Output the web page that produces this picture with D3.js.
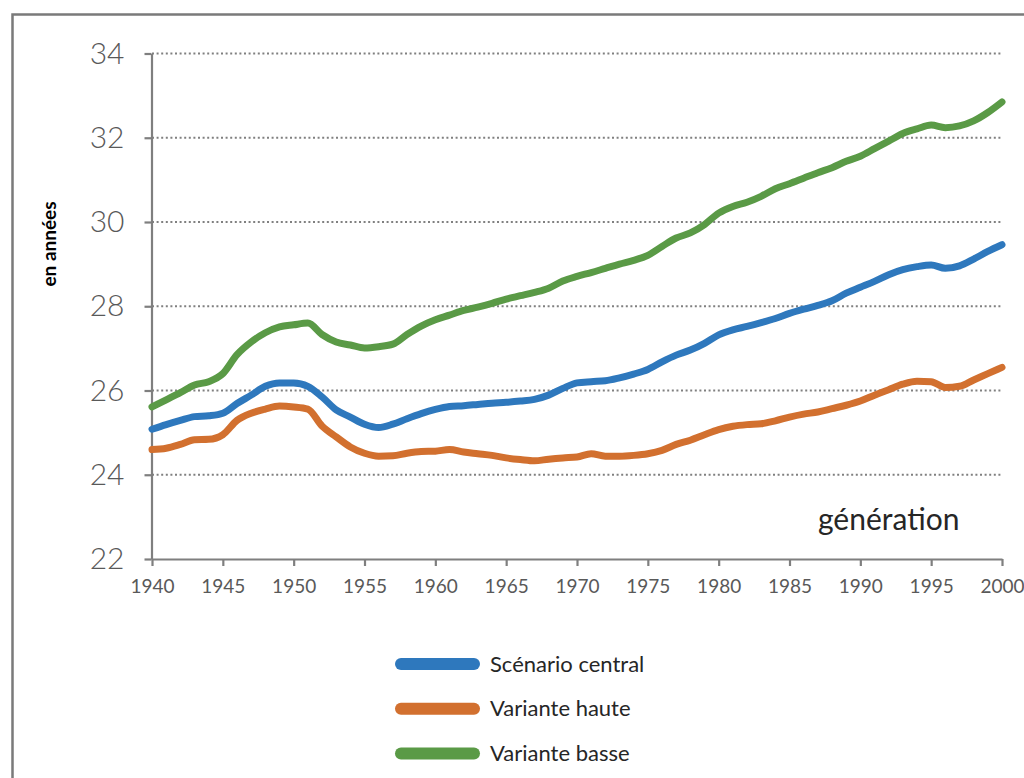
<!DOCTYPE html>
<html>
<head>
<meta charset="utf-8">
<script src="https://cdn.jsdelivr.net/npm/d3@7"></script>
<style>
  html, body { margin: 0; padding: 0; background: #ffffff; }
  svg { display: block; }
  text { font-family: Lato, "Open Sans", "Noto Sans", sans-serif; }
</style>
</head>
<body>
<svg id="chart" width="1024" height="778"></svg>
<script>
// ---- Data ----
const years = [1940,1941,1942,1943,1944,1945,1946,1947,1948,1949,
  1950,1951,1952,1953,1954,1955,1956,1957,1958,1959,
  1960,1961,1962,1963,1964,1965,1966,1967,1968,1969,
  1970,1971,1972,1973,1974,1975,1976,1977,1978,1979,
  1980,1981,1982,1983,1984,1985,1986,1987,1988,1989,
  1990,1991,1992,1993,1994,1995,1996,1997,1998,1999,2000];

const scenarioCentral = [25.08,25.19,25.29,25.38,25.40,25.46,25.69,25.89,26.10,26.18,
  26.18,26.10,25.85,25.54,25.37,25.20,25.12,25.20,25.33,25.45,
  25.55,25.62,25.64,25.67,25.70,25.72,25.75,25.79,25.89,26.05,
  26.18,26.21,26.23,26.30,26.39,26.50,26.68,26.84,26.96,27.12,
  27.32,27.44,27.52,27.61,27.71,27.83,27.93,28.02,28.13,28.31,
  28.45,28.59,28.75,28.87,28.94,28.98,28.90,28.96,29.12,29.30,29.46];

const varianteHaute = [24.60,24.63,24.72,24.83,24.84,24.95,25.29,25.46,25.56,25.63,
  25.61,25.56,25.16,24.90,24.66,24.51,24.44,24.45,24.51,24.55,
  24.56,24.60,24.54,24.50,24.46,24.40,24.36,24.33,24.37,24.40,
  24.42,24.50,24.44,24.44,24.46,24.50,24.58,24.72,24.82,24.95,
  25.07,25.15,25.19,25.21,25.28,25.37,25.44,25.49,25.57,25.65,
  25.75,25.89,26.02,26.15,26.22,26.21,26.07,26.10,26.25,26.40,26.55];

const varianteBasse = [25.61,25.78,25.95,26.13,26.21,26.40,26.85,27.15,27.37,27.51,
  27.56,27.60,27.33,27.15,27.08,27.01,27.04,27.10,27.33,27.53,
  27.68,27.79,27.90,27.98,28.07,28.17,28.25,28.33,28.43,28.60,
  28.71,28.80,28.90,29.00,29.09,29.21,29.42,29.62,29.74,29.94,
  30.21,30.37,30.47,30.61,30.79,30.91,31.04,31.17,31.29,31.44,
  31.56,31.74,31.92,32.10,32.21,32.30,32.24,32.28,32.40,32.60,32.85];

const seriesNames = ["Scénario central", "Variante haute", "Variante basse"];
const seriesColors = ["#2e78bd", "#d2702f", "#5a9a46"];
const xTickValues = [1940,1945,1950,1955,1960,1965,1970,1975,1980,1985,1990,1995,2000];
const yTickValues = [22,24,26,28,30,32,34];
const yTitle = "en années";
const xTitle = "génération";

// ---- Drawing ----
const svg = d3.select("#chart");
const axisColor = "#7f7f7f";
const labelColor = "#595959";

// outer frame (cut off at right and bottom)
svg.append("rect")
  .attr("x", 12.5).attr("y", 14.5)
  .attr("width", 1200).attr("height", 1000)
  .attr("fill", "none").attr("stroke", "#7a7a7a").attr("stroke-width", 2.5);

const x = d3.scaleLinear().domain([1940, 2000]).range([152, 1002]);
const y = d3.scaleLinear().domain([22, 34]).range([559, 53.5]);

// gridlines
svg.append("g").selectAll("line")
  .data(yTickValues.filter(v => v > 22))
  .join("line")
  .attr("x1", x(1940)).attr("x2", x(2000))
  .attr("y1", d => y(d)).attr("y2", d => y(d))
  .attr("stroke", "#808080").attr("stroke-width", 2)
  .attr("stroke-dasharray", "2,2.6");

// y axis
const yAxis = svg.append("g")
  .attr("transform", `translate(${x(1940) - 0.5},0)`)
  .call(d3.axisLeft(y).tickValues(yTickValues).tickSize(7).tickPadding(20).tickSizeOuter(0));
yAxis.select(".domain").attr("stroke", axisColor).attr("stroke-width", 2.2);
yAxis.selectAll(".tick line").attr("stroke", axisColor).attr("stroke-width", 2.2);
yAxis.selectAll(".tick text")
  .attr("fill", labelColor)
  .style("font-size", "30px")
  .style("font-weight", "300")
  .style("font-family", "Lato, 'Open Sans', sans-serif");

// x axis
const xAxis = svg.append("g")
  .attr("transform", `translate(0,${y(22)})`)
  .call(d3.axisBottom(x).tickValues(xTickValues).tickFormat(d3.format("d")).tickSize(7).tickPadding(14).tickSizeOuter(0));
xAxis.select(".domain").attr("stroke", axisColor).attr("stroke-width", 2.2);
xAxis.selectAll(".tick line").attr("stroke", axisColor).attr("stroke-width", 2.2);
xAxis.selectAll(".tick text")
  .attr("fill", labelColor)
  .style("font-size", "19px")
  .style("font-family", "Lato, 'Open Sans', sans-serif");

// series lines
const allSeries = [scenarioCentral, varianteHaute, varianteBasse];
const line = d3.line()
  .x((d, i) => x(years[i]))
  .y(d => y(d))
  .curve(d3.curveMonotoneX);

svg.append("g").selectAll("path")
  .data(allSeries)
  .join("path")
  .attr("d", d => line(d))
  .attr("fill", "none")
  .attr("stroke", (d, i) => seriesColors[i])
  .attr("stroke-width", 7)
  .attr("stroke-linecap", "round")
  .attr("stroke-linejoin", "round");

// axis titles
svg.append("text")
  .attr("x", 818).attr("y", 530)
  .attr("fill", "#262626")
  .style("font-size", "30px")
  .text(xTitle);

svg.append("text")
  .attr("transform", "translate(56,244) rotate(-90)")
  .attr("text-anchor", "middle")
  .attr("fill", "#000000")
  .style("font-size", "19px")
  .style("font-weight", "bold")
  .text(yTitle);

// legend
const legend = svg.append("g").selectAll("g")
  .data(seriesNames)
  .join("g")
  .attr("transform", (d, i) => `translate(0,${664 + i * 44.7})`);

legend.append("line")
  .attr("x1", 401).attr("x2", 474)
  .attr("y1", 0).attr("y2", 0)
  .attr("stroke", (d, i) => seriesColors[i])
  .attr("stroke-width", 12)
  .attr("stroke-linecap", "round");

legend.append("text")
  .attr("x", 490).attr("y", 0)
  .attr("dy", "0.35em")
  .attr("fill", "#262626")
  .style("font-size", "22px")
  .text(d => d);
</script>
</body>
</html>
